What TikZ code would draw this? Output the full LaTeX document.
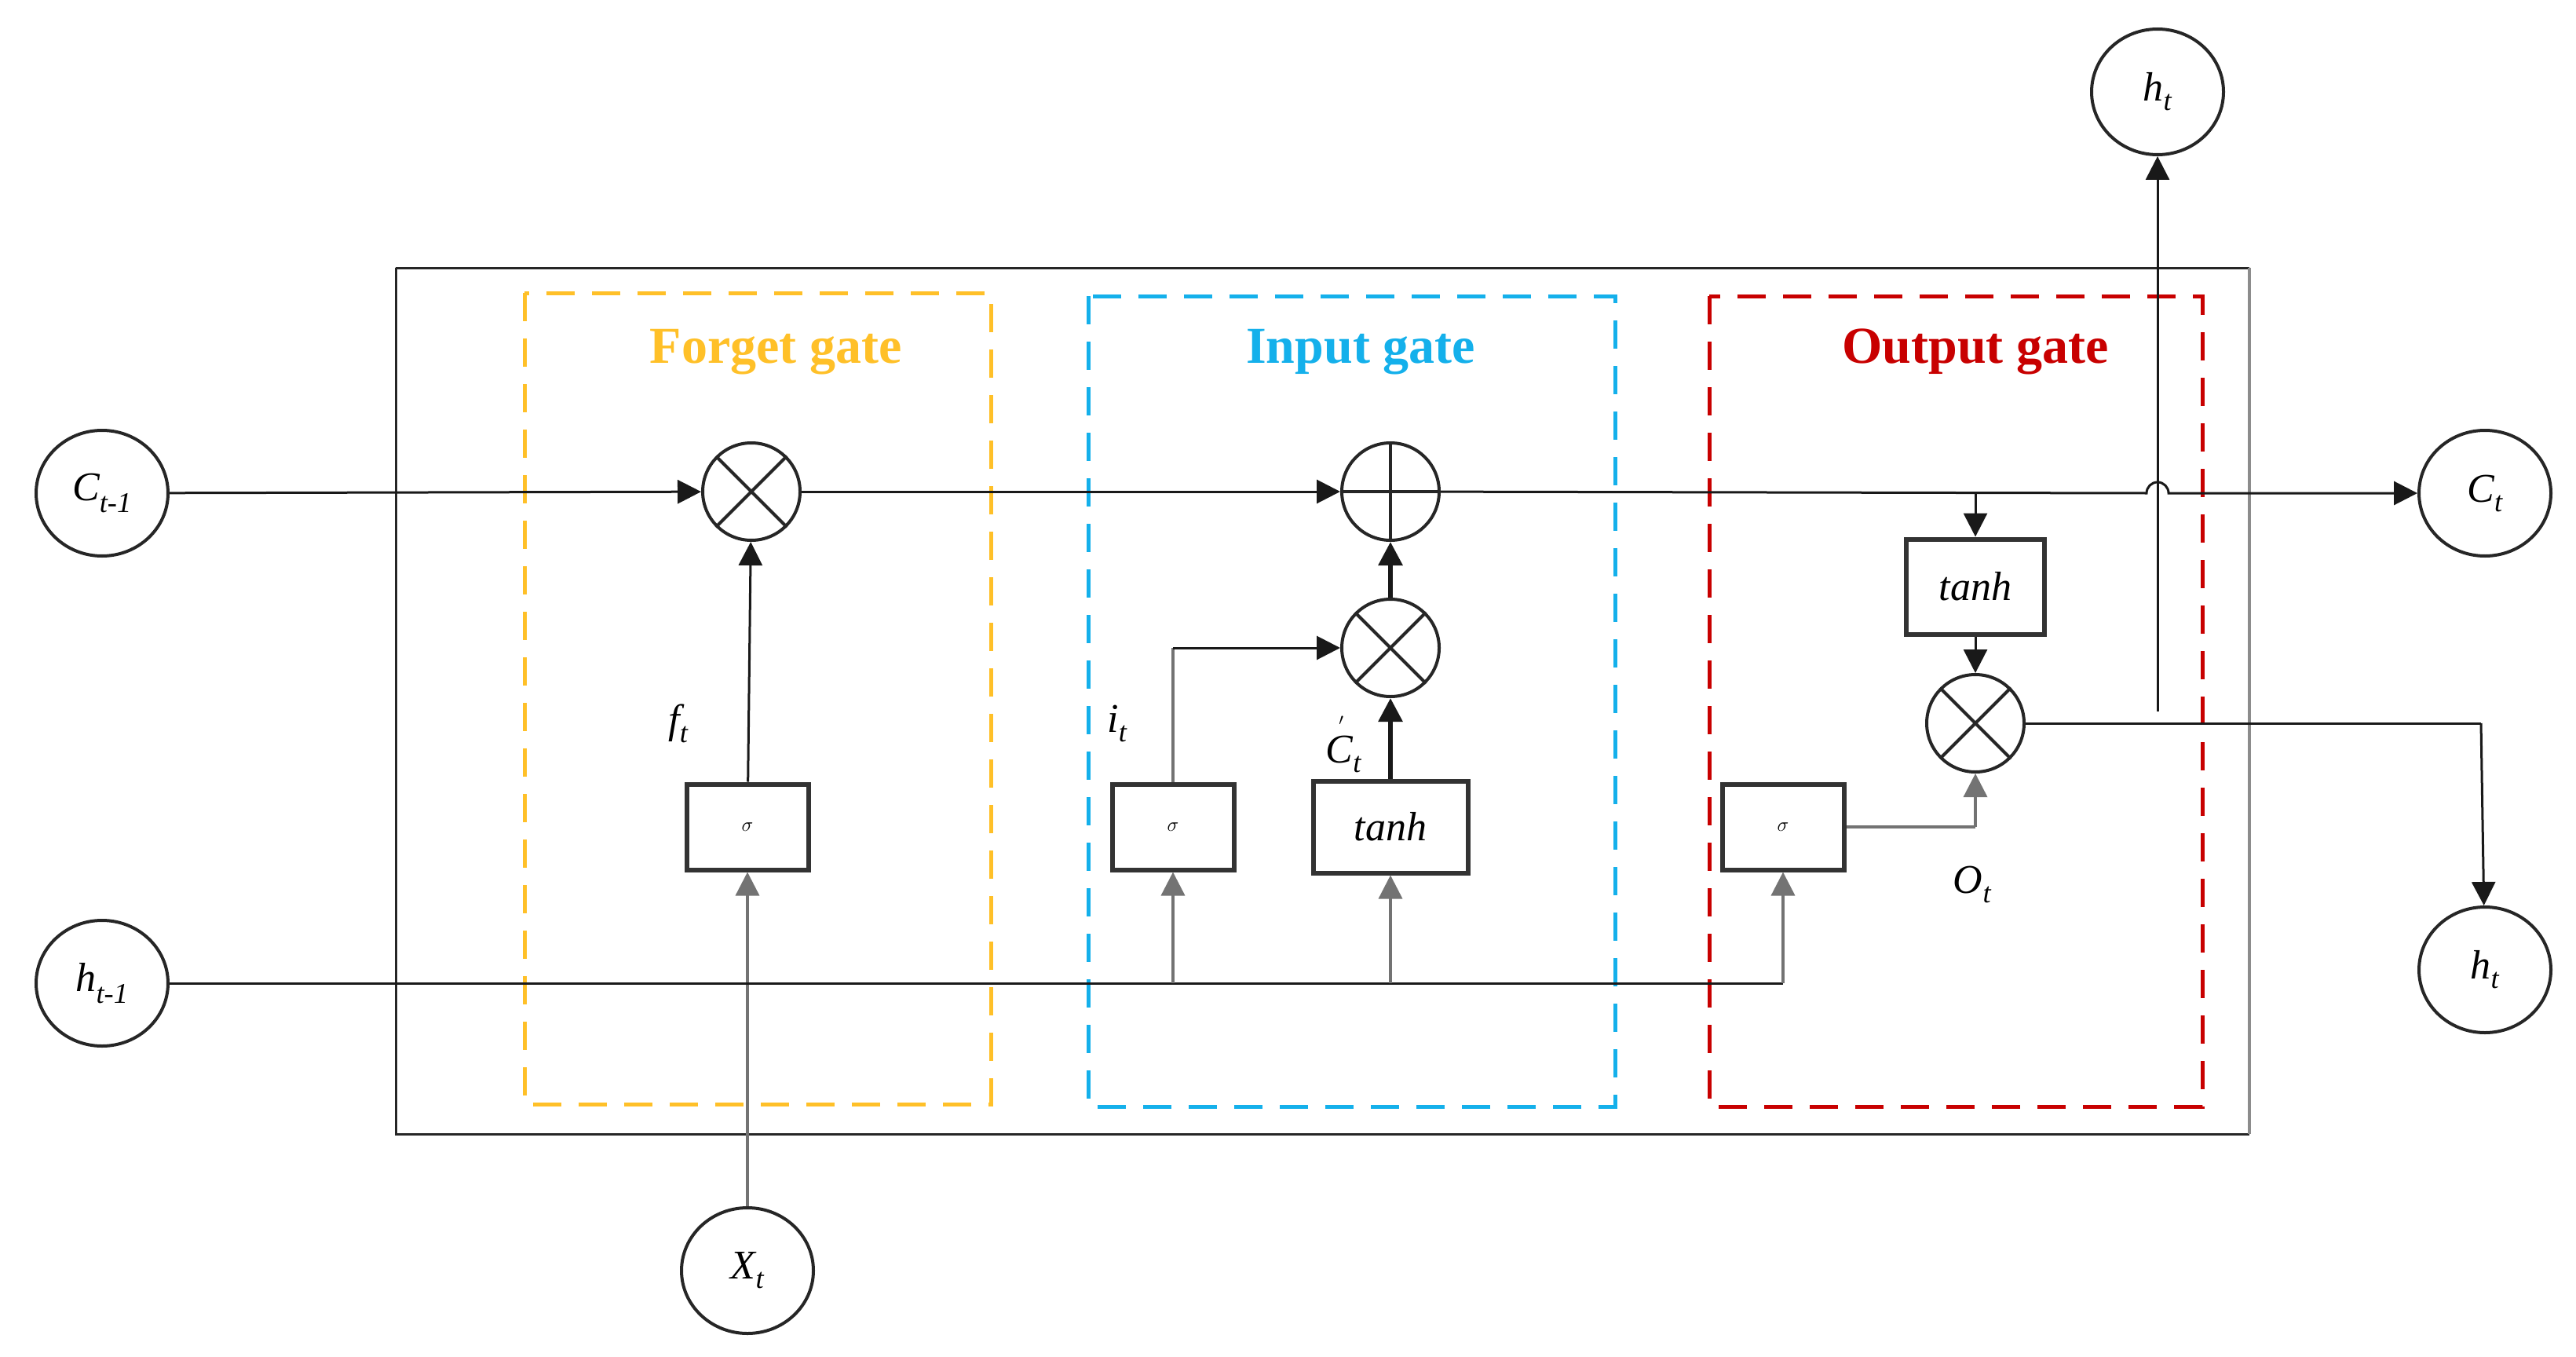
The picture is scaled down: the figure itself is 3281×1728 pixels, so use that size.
\documentclass[tikz,border=0pt]{standalone}
\usepackage{fontspec}
\setmainfont{Liberation Serif}
\usetikzlibrary{arrows.meta}
\definecolor{fgc}{RGB}{255,192,40}
\definecolor{igc}{RGB}{20,176,235}
\definecolor{ogc}{RGB}{200,0,0}
\begin{document}
\begin{tikzpicture}[x=1pt,y=-1pt,
  circ/.style={draw=black!85,line width=4pt,ellipse,minimum width=168pt,minimum height=160pt,font=\fontsize{52}{60}\selectfont\itshape},
  op/.style={draw=black!85,line width=4pt,circle,minimum size=124pt,inner sep=0pt},
  box/.style={draw=black!80,line width=6pt,minimum width=155pt,minimum height=109pt,font=\fontsize{52}{60}\selectfont\itshape},
  gate/.style={line width=5pt,dash pattern=on 36pt off 22pt},
  title/.style={font=\fontsize{66}{70}\selectfont\bfseries},
  lab/.style={font=\fontsize{52}{60}\selectfont\itshape},
  ln/.style={line width=3pt,black!90},
  gl/.style={line width=3.5pt,black!55},
  tk/.style={line width=6pt,black!90},
  arr/.style={-{Triangle[length=30pt,width=30pt]}},
]
\useasboundingbox (0,0) rectangle (3281,1728);
\usetikzlibrary{shapes.geometric}
% outer box
\draw[line width=3pt,black!85] (504,341) -- (2865,341);
\draw[line width=3pt,black!85] (504,341) -- (504,1444) -- (2865,1444);
\draw[line width=4pt,black!45] (2865,341) -- (2865,1444);
% gates
\draw[gate,fgc] (668,373) rectangle (1262,1406);
\draw[gate,igc] (1386,377) rectangle (2057,1409);
\draw[gate,ogc] (2177,377) rectangle (2805,1409);
\node[title,text=fgc] (tf) at (988,448) {Forget gate};
\node[title,text=igc] (ti) at (1733,448) {Input gate};
\node[title,text=ogc] (to) at (2516,448) {Output gate};
% circles
\node[circ,ellipse] (c0) at (130,628) {C\textsubscript{t-1}};
\node[circ,ellipse] (h0) at (130,1252) {h\textsubscript{t-1}};
\node[circ,ellipse] (x) at (952,1618) {X\textsubscript{t}};
\node[circ,ellipse] (ht) at (2748,117) {h\textsubscript{t}};
\node[circ,ellipse] (ct) at (3165,628) {C\textsubscript{t}};
\node[circ,ellipse] (hr) at (3165,1235) {h\textsubscript{t}};
% operators
\node[op] (fm) at (957,626) {};
\node[op] (pl) at (1771,626) {};
\node[op] (im) at (1771,825) {};
\node[op] (om) at (2516,921) {};
\foreach \n in {fm,im,om}{
  \draw[line width=4pt,black!85] (\n.north east) -- (\n.south west) (\n.north west) -- (\n.south east);}
\draw[line width=4pt,black!85] (pl.north) -- (pl.south) (pl.west) -- (pl.east);
% boxes
\node[box] (fs) at (952,1053) {$\sigma$};
\node[box] (is) at (1494,1053) {$\sigma$};
\node[box,minimum width=197pt,minimum height=117pt] (itn) at (1771,1053) {tanh};
\node[box,minimum width=176pt,minimum height=121pt] (otn) at (2516,747) {tanh};
\node[box] (os) at (2271,1053) {$\sigma$};
% labels
\node[lab] (lf) at (864,921) {f\textsubscript{t}};
\node[lab] (li) at (1423,921) {i\textsubscript{t}};
\node[lab] (lc) at (1700,948) {C\textsubscript{t}\kern-0.55em\raisebox{0.75em}{\fontsize{30}{30}\selectfont$'$}};
\node[lab] (lo) at (2512,1126) {O\textsubscript{t}};
% coordinates
\coordinate (b1) at (2734,628);
\coordinate (tb) at (2516,628);
\coordinate (hb) at (2748,906);
\coordinate (or) at (3160,921);
\coordinate (hi) at (1494,1252);
\coordinate (hti) at (1771,1252);
\coordinate (hos) at (2271,1252);
\coordinate (isc) at (1494,825);
\coordinate (osr) at (2516,1053);
% main cell line
\draw[ln,arr] (c0) -- (fm);
\draw[ln,arr] (fm) -- (pl);
\draw[ln,arr] (pl) -- (b1) arc[start angle=180,end angle=360,radius=14] -- (ct);
\draw[ln,arr] (tb) -- (otn);
\draw[ln,arr] (otn) -- (om);
% forget
\draw[gl,arr] (x) -- (fs);
\draw[ln,arr] (fs) -- (fm);
% h_{t-1}
\draw[ln] (h0) -- (hos);
\draw[gl,arr] (hos) -- (os);
\draw[gl,arr] (hi) -- (is);
\draw[gl,arr] (hti) -- (itn);
% input
\draw[gl] (is) -- (isc);
\draw[ln,arr] (isc) -- (im);
\draw[tk,arr] (itn) -- (im);
\draw[tk,arr] (im) -- (pl);
% output
\draw[gl] (os.east) -- (osr);
\draw[gl,arr] (osr) -- (om);
\draw[ln] (om) -- (or);
\draw[ln,arr] (or) -- (hr);
\draw[ln,arr] (hb) -- (ht);
\end{tikzpicture}
\end{document}
